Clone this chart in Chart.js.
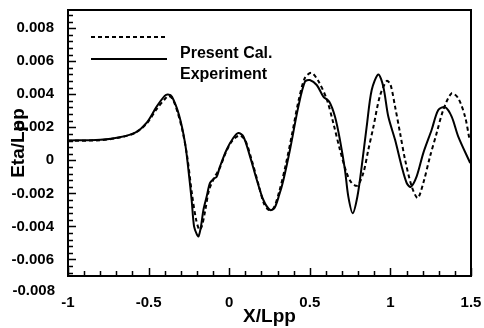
<!DOCTYPE html>
<html>
<head>
<meta charset="utf-8">
<script src="https://cdn.jsdelivr.net/npm/chart.js@4/dist/chart.umd.min.js"></script>
<style>
  html, body { margin: 0; padding: 0; background: #fff; }
  #wrap { width: 484px; height: 328px; }
</style>
</head>
<body>
<div id="wrap"><canvas id="waveChart"></canvas></div>
<script>
// Present Cal. (dashed)
var calcX = [-1.00, -0.80, -0.68, -0.58, -0.51, -0.45, -0.40, -0.375, -0.35, -0.32, -0.29, -0.26, -0.23, -0.205, -0.185, -0.17, -0.15, -0.125, -0.09, -0.06, -0.02, 0.02, 0.065, 0.10, 0.14, 0.18, 0.215, 0.245, 0.275, 0.31, 0.35, 0.39, 0.43, 0.47, 0.51, 0.553, 0.605, 0.646, 0.687, 0.729, 0.76, 0.795, 0.832, 0.863, 0.894, 0.935, 0.977, 1.00, 1.029, 1.06, 1.091, 1.132, 1.169, 1.204, 1.246, 1.287, 1.328, 1.38, 1.421, 1.463, 1.49];
var calcY = [0.00118, 0.00122, 0.00138, 0.00168, 0.00225, 0.0031, 0.0037, 0.0039, 0.0037, 0.0029, 0.0018, 0.0002, -0.0021, -0.0036, -0.0042, -0.0040, -0.0031, -0.0018, -0.0010, -0.0005, 0.0005, 0.0012, 0.0015, 0.0012, 0.0000, -0.0014, -0.0026, -0.0030, -0.0029, -0.0019, -0.0003, 0.0016, 0.0036, 0.0050, 0.0053, 0.0048, 0.0037, 0.00225, 0.00064, -0.00077, -0.00137, -0.00153, -0.00077, 0.00064, 0.0020, 0.0039, 0.0048, 0.0046, 0.00325, 0.00165, 0.00004, -0.00157, -0.00228, -0.00137, 0.00024, 0.00165, 0.00305, 0.00406, 0.00376, 0.00265, 0.0013];

// Experiment (solid)
var expX = [-1.00, -0.90, -0.80, -0.68, -0.58, -0.51, -0.45, -0.40, -0.38, -0.355, -0.31, -0.274, -0.253, -0.233, -0.218, -0.20, -0.19, -0.175, -0.16, -0.14, -0.119, -0.095, -0.078, -0.057, -0.016, 0.025, 0.057, 0.088, 0.129, 0.171, 0.212, 0.253, 0.28, 0.31, 0.336, 0.377, 0.429, 0.47, 0.50, 0.543, 0.584, 0.621, 0.656, 0.687, 0.718, 0.739, 0.766, 0.795, 0.822, 0.853, 0.884, 0.925, 0.956, 0.987, 1.029, 1.07, 1.101, 1.126, 1.163, 1.204, 1.256, 1.297, 1.339, 1.38, 1.421, 1.495];
var expY = [0.00120, 0.00122, 0.00124, 0.00140, 0.00170, 0.00230, 0.00325, 0.00390, 0.00398, 0.00385, 0.0027, 0.00106, -0.00057, -0.0024, -0.0040, -0.0045, -0.0046, -0.0040, -0.0030, -0.0022, -0.00137, -0.0011, -0.0010, -0.00037, 0.00064, 0.00135, 0.00165, 0.00144, 0.00024, -0.00117, -0.0024, -0.0030, -0.0029, -0.0021, -0.0012, 0.00064, 0.00325, 0.00476, 0.00486, 0.00456, 0.00386, 0.00355, 0.00265, 0.00124, -0.00057, -0.0022, -0.0032, -0.0022, -0.00037, 0.00205, 0.00426, 0.0052, 0.00446, 0.00265, 0.00124, -0.00037, -0.00137, -0.00161, -0.00097, 0.00044, 0.00185, 0.00305, 0.00322, 0.00265, 0.00144, -0.00016];

var xTickValues = [-1, -0.5, 0, 0.5, 1, 1.5];
var yTickValues = [-0.006, -0.004, -0.002, 0, 0.002, 0.004, 0.006, 0.008];
var yCornerLabel = '-0.008';
var legendLabels = ['Present Cal.', 'Experiment'];

var FONT = "Arial, 'Liberation Sans', sans-serif";

function toPoints(xs, ys) {
  return xs.map(function (x, i) { return { x: x, y: ys[i] }; });
}

// frame, inward tick marks, legend and corner label
var framePlugin = {
  id: 'frame',
  afterDraw: function (chart) {
    var ctx = chart.ctx;
    var a = chart.chartArea;
    var xs = chart.scales.x, ys = chart.scales.y;
    ctx.save();
    ctx.setLineDash([]);
    ctx.strokeStyle = '#000';
    ctx.lineWidth = 2;
    ctx.strokeRect(a.left, a.top, a.right - a.left, a.bottom - a.top);

    // minor ticks every 0.1 / 0.0004, longer at labelled values
    ctx.lineWidth = 1.5;
    ctx.beginPath();
    for (var i = 0; i <= 25; i++) {
      var px = Math.round(xs.getPixelForValue(-1 + i * 0.1)) + 0.5;
      var len = (i % 5 === 0) ? 8 : 5;
      ctx.moveTo(px, a.bottom);
      ctx.lineTo(px, a.bottom - len);
    }
    for (var k = -17; k <= 22; k++) {
      var py = Math.round(ys.getPixelForValue(k * 0.0004)) + 0.5;
      var ylen = (k % 5 === 0) ? 8 : 5;
      ctx.moveTo(a.left, py);
      ctx.lineTo(a.left + ylen, py);
    }
    ctx.stroke();

    // legend
    ctx.lineWidth = 2;
    ctx.setLineDash([4, 3]);
    ctx.beginPath();
    ctx.moveTo(a.left + 23, a.top + 27);
    ctx.lineTo(a.left + 99, a.top + 27);
    ctx.stroke();
    ctx.setLineDash([]);
    ctx.beginPath();
    ctx.moveTo(a.left + 23, a.top + 49);
    ctx.lineTo(a.left + 99, a.top + 49);
    ctx.stroke();

    ctx.fillStyle = '#000';
    ctx.font = 'bold 16px ' + FONT;
    ctx.textAlign = 'left';
    ctx.textBaseline = 'middle';
    ctx.fillText(legendLabels[0], a.left + 112, a.top + 44);
    ctx.fillText(legendLabels[1], a.left + 112, a.top + 65);

    ctx.font = 'bold 15px ' + FONT;
    ctx.textAlign = 'right';
    ctx.fillText(yCornerLabel, a.left - 13, a.bottom + 15);
    ctx.restore();
  }
};

var ctxWave = document.getElementById('waveChart').getContext('2d');
var waveChart = new Chart(ctxWave, {
  type: 'line',
  data: {
    datasets: [{
      label: legendLabels[0],
      data: toPoints(calcX, calcY),
      borderColor: '#000',
      borderWidth: 2,
      borderDash: [4, 3],
      pointRadius: 0,
      tension: 0.3,
      fill: false
    }, {
      label: legendLabels[1],
      data: toPoints(expX, expY),
      borderColor: '#000',
      borderWidth: 2,
      pointRadius: 0,
      tension: 0.3,
      fill: false
    }]
  },
  options: {
    responsive: true,
    maintainAspectRatio: false,
    animation: false,
    layout: { padding: { top: 10, right: 13, left: 0, bottom: 0 } },
    plugins: {
      legend: { display: false },
      tooltip: { enabled: false }
    },
    scales: {
      x: {
        type: 'linear',
        min: -1,
        max: 1.5,
        afterBuildTicks: function (scale) {
          scale.ticks = xTickValues.map(function (v) { return { value: v }; });
        },
        afterFit: function (scale) {
          scale.height = 52;
          scale.paddingLeft = 0;
          scale.paddingRight = 0;
        },
        grid: { display: false },
        border: { display: false },
        ticks: {
          color: '#000',
          font: { family: FONT, size: 15, weight: 'bold' },
          padding: 10,
          maxRotation: 0,
          autoSkip: false,
          callback: function (v) { return String(v); }
        },
        title: {
          display: true,
          text: 'X/Lpp',
          color: '#000',
          font: { family: FONT, size: 19, weight: 'bold' },
          padding: { top: 0, bottom: 0 }
        }
      },
      y: {
        min: -0.007,
        max: 0.0091,
        afterBuildTicks: function (scale) {
          scale.ticks = yTickValues.map(function (v) { return { value: v }; });
        },
        afterFit: function (scale) {
          scale.width = 68;
          scale.paddingTop = 0;
          scale.paddingBottom = 0;
        },
        grid: { display: false },
        border: { display: false },
        ticks: {
          color: '#000',
          font: { family: FONT, size: 15, weight: 'bold' },
          padding: 6,
          autoSkip: false,
          callback: function (v) { return String(v); }
        },
        title: {
          display: true,
          text: 'Eta/Lpp',
          color: '#000',
          font: { family: FONT, size: 19, weight: 'bold' },
          padding: { top: 7, bottom: 0 }
        }
      }
    }
  },
  plugins: [framePlugin]
});
</script>
</body>
</html>
